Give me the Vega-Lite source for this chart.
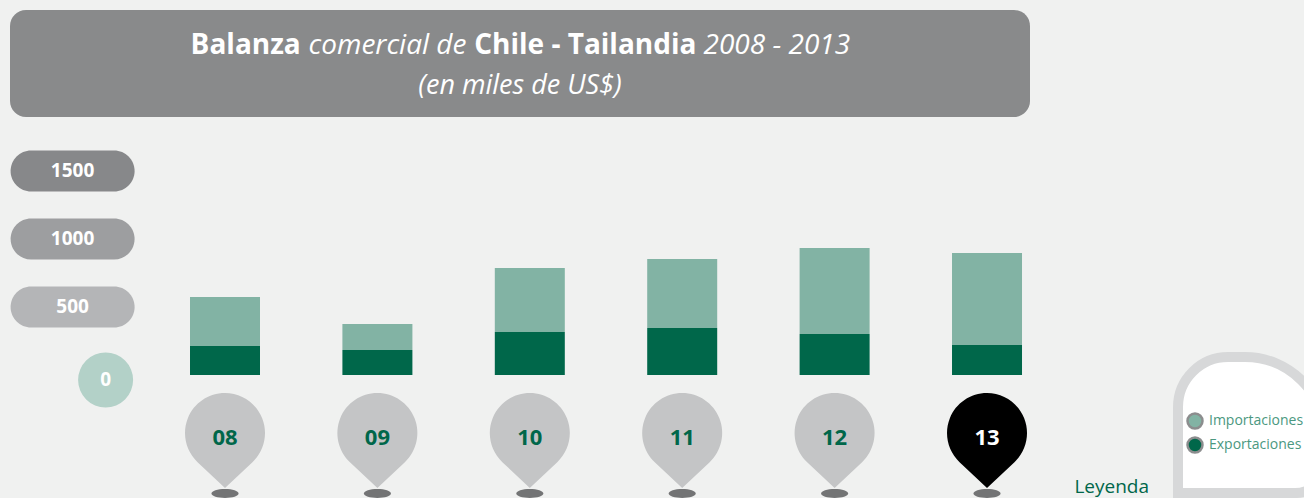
{
  "$schema": "https://vega.github.io/schema/vega-lite/v6.json",
  "background": "#f0f1f0",
  "padding": {"left": 10, "top": 10, "right": 0, "bottom": 0},
  "spacing": 0,
  "config": {"view": {"stroke": null}, "axis": {"disable": true}, "font": "Open Sans"},
  "datasets": {
    "comercio": [
      {"anio": "08", "tipo": "Exportaciones", "valor": 213},
      {"anio": "08", "tipo": "Importaciones", "valor": 360},
      {"anio": "09", "tipo": "Exportaciones", "valor": 184},
      {"anio": "09", "tipo": "Importaciones", "valor": 191},
      {"anio": "10", "tipo": "Exportaciones", "valor": 316},
      {"anio": "10", "tipo": "Importaciones", "valor": 471},
      {"anio": "11", "tipo": "Exportaciones", "valor": 346},
      {"anio": "11", "tipo": "Importaciones", "valor": 507},
      {"anio": "12", "tipo": "Exportaciones", "valor": 302},
      {"anio": "12", "tipo": "Importaciones", "valor": 632},
      {"anio": "13", "tipo": "Exportaciones", "valor": 221},
      {"anio": "13", "tipo": "Importaciones", "valor": 677}
    ],
    "anios": [{"anio": "08"}, {"anio": "09"}, {"anio": "10"}, {"anio": "11"}, {"anio": "12"}, {"anio": "13"}],
    "escala": [{"v": 0}, {"v": 500}, {"v": 1000}, {"v": 1500}]
  },
  "vconcat": [
    {
      "width": 1020,
      "height": 107,
      "view": {"fill": "#898a8b", "stroke": null, "cornerRadius": 16},
      "data": {"values": [{}]},
      "layer": [
        {"mark": {"type": "text", "text": "Balanza", "font": "Open Sans", "fontWeight": "bold", "fontSize": 28, "color": "#ffffff", "align": "center", "baseline": "alphabetic", "dx": -274.3, "dy": -9.5}, "encoding": {}},
        {"mark": {"type": "text", "text": "comercial de", "font": "Open Sans", "fontStyle": "italic", "fontSize": 28, "color": "#ffffff", "align": "center", "baseline": "alphabetic", "dx": -132.5, "dy": -9.5}, "encoding": {}},
        {"mark": {"type": "text", "text": "Chile - Tailandia", "font": "Open Sans", "fontWeight": "bold", "fontSize": 28, "color": "#ffffff", "align": "center", "baseline": "alphabetic", "dx": 65.3, "dy": -9.5}, "encoding": {}},
        {"mark": {"type": "text", "text": "2008 - 2013", "font": "Open Sans", "fontStyle": "italic", "fontSize": 28, "color": "#ffffff", "align": "center", "baseline": "alphabetic", "dx": 256.8, "dy": -9.5}, "encoding": {}},
        {"mark": {"type": "text", "text": "(en miles de US$)", "font": "Open Sans", "fontStyle": "italic", "fontSize": 27, "color": "#ffffff", "align": "center", "baseline": "alphabetic", "dx": 0, "dy": 30.5}, "encoding": {}}
      ]
    },
    {
      "width": 1294,
      "height": 381,
      "layer": [
        {
          "data": {"values": [{}]},
          "mark": {"type": "point", "shape": "M -0.72 0.68 L -0.72 -0.18 A 0.5 0.5 0 0 1 -0.22 -0.68 L -0.05 -0.68 A 0.8 0.8 0 0 1 0.75 0.12 L 0.75 0.38 A 0.3 0.3 0 0 1 0.45 0.68 Z", "size": 40000, "filled": true, "fill": "#ffffff", "stroke": "#d7d8d9", "strokeWidth": 10, "strokeJoin": "miter", "opacity": 1, "xOffset": 110.6, "clip": true},
          "encoding": {
            "x": {"datum": "ley", "type": "nominal", "scale": {"type": "band", "domain": ["eje", "08", "09", "10", "11", "12", "13", "ley"], "paddingInner": 0.5407, "paddingOuter": 0.5157, "align": 0.1756}, "axis": null},
            "y": {"datum": -367.6, "type": "quantitative", "scale": {"domain": [-904, 1897], "nice": false, "zero": false}, "axis": null}
          }
        },
        {
          "data": {"name": "escala"},
          "transform": [{"filter": "datum.v > 0"}],
          "mark": {"type": "point", "shape": "M -0.669 -0.331 L 0.669 -0.331 A 0.331 0.331 0 0 1 0.669 0.331 L -0.669 0.331 A 0.331 0.331 0 0 1 -0.669 -0.331 Z", "size": 15376, "filled": true, "strokeWidth": 0, "opacity": 1},
          "encoding": {
            "x": {"datum": "eje", "type": "nominal", "scale": {"type": "band", "domain": ["eje", "08", "09", "10", "11", "12", "13", "ley"], "paddingInner": 0.5407, "paddingOuter": 0.5157, "align": 0.1756}, "axis": null},
            "y": {"field": "v", "type": "quantitative", "scale": {"domain": [-904, 1897], "nice": false, "zero": false}, "axis": null},
            "fill": {"field": "v", "type": "ordinal", "scale": {"domain": [500, 1000, 1500], "range": ["#b4b5b7", "#9d9ea0", "#87888a"]}, "legend": null}
          }
        },
        {
          "data": {"name": "escala"},
          "transform": [{"filter": "datum.v > 0"}],
          "mark": {"type": "text", "font": "Open Sans", "fontWeight": "bold", "fontSize": 19, "color": "#ffffff", "align": "center", "baseline": "middle"},
          "encoding": {
            "x": {"datum": "eje", "type": "nominal", "scale": {"type": "band", "domain": ["eje", "08", "09", "10", "11", "12", "13", "ley"], "paddingInner": 0.5407, "paddingOuter": 0.5157, "align": 0.1756}, "axis": null},
            "y": {"field": "v", "type": "quantitative", "scale": {"domain": [-904, 1897], "nice": false, "zero": false}, "axis": null},
            "text": {"field": "v", "type": "quantitative", "format": "d"}
          }
        },
        {
          "data": {"name": "escala"},
          "transform": [{"filter": "datum.v == 0"}],
          "mark": {"type": "point", "shape": "circle", "size": 3025, "filled": true, "fill": "#b3d1c8", "strokeWidth": 0, "opacity": 1, "xOffset": 33, "yOffset": 5},
          "encoding": {
            "x": {"datum": "eje", "type": "nominal", "scale": {"type": "band", "domain": ["eje", "08", "09", "10", "11", "12", "13", "ley"], "paddingInner": 0.5407, "paddingOuter": 0.5157, "align": 0.1756}, "axis": null},
            "y": {"field": "v", "type": "quantitative", "scale": {"domain": [-904, 1897], "nice": false, "zero": false}, "axis": null}
          }
        },
        {
          "data": {"name": "escala"},
          "transform": [{"filter": "datum.v == 0"}],
          "mark": {"type": "text", "font": "Open Sans", "fontWeight": "bold", "fontSize": 19, "color": "#ffffff", "align": "center", "baseline": "middle", "xOffset": 33, "yOffset": 5},
          "encoding": {
            "x": {"datum": "eje", "type": "nominal", "scale": {"type": "band", "domain": ["eje", "08", "09", "10", "11", "12", "13", "ley"], "paddingInner": 0.5407, "paddingOuter": 0.5157, "align": 0.1756}, "axis": null},
            "y": {"field": "v", "type": "quantitative", "scale": {"domain": [-904, 1897], "nice": false, "zero": false}, "axis": null},
            "text": {"field": "v", "type": "quantitative", "format": "d"}
          }
        },
        {
          "data": {"name": "comercio"},
          "mark": {"type": "bar"},
          "encoding": {
            "x": {"field": "anio", "type": "nominal", "scale": {"type": "band", "domain": ["eje", "08", "09", "10", "11", "12", "13", "ley"], "paddingInner": 0.5407, "paddingOuter": 0.5157, "align": 0.1756}, "axis": null},
            "y": {"field": "valor", "type": "quantitative", "stack": "zero", "scale": {"domain": [-904, 1897], "nice": false, "zero": false}, "axis": null},
            "color": {
              "field": "tipo",
              "type": "nominal",
              "scale": {"domain": ["Importaciones", "Exportaciones"], "range": ["#82b3a4", "#00674a"]},
              "legend": {
                "orient": "none",
                "legendX": 1176,
                "legendY": 402,
                "title": null,
                "padding": 0,
                "symbolType": "circle",
                "symbolSize": 225,
                "symbolStrokeColor": "#8c8d8e",
                "symbolStrokeWidth": 2.5,
                "symbolOpacity": 1,
                "labelColor": "#4b9880",
                "labelFont": "Open Sans",
                "labelFontSize": 14,
                "labelOffset": 5,
                "rowPadding": -2,
                "encode": {"symbols": {"update": {"stroke": {"value": "#8c8d8e"}, "strokeWidth": {"value": 2.5}}}}
              }
            },
            "order": {"field": "tipo", "sort": "ascending"}
          }
        },
        {
          "data": {"name": "anios"},
          "mark": {"type": "point", "shape": "M -1 0 A 1 0.33 0 1 1 1 0 A 1 0.33 0 1 1 -1 0 Z", "size": 729, "filled": true, "fill": "#737475", "strokeWidth": 0, "opacity": 1, "clip": true},
          "encoding": {
            "x": {"field": "anio", "type": "nominal", "scale": {"type": "band", "domain": ["eje", "08", "09", "10", "11", "12", "13", "ley"], "paddingInner": 0.5407, "paddingOuter": 0.5157, "align": 0.1756}, "axis": null},
            "y": {"datum": -871, "type": "quantitative", "scale": {"domain": [-904, 1897], "nice": false, "zero": false}, "axis": null}
          }
        },
        {
          "data": {"name": "anios"},
          "mark": {"type": "point", "shape": "M 0 1.375 L -0.686 0.727 A 1 1 0 1 1 0.686 0.727 Z", "size": 6400, "filled": true, "strokeWidth": 0, "opacity": 1},
          "encoding": {
            "x": {"field": "anio", "type": "nominal", "scale": {"type": "band", "domain": ["eje", "08", "09", "10", "11", "12", "13", "ley"], "paddingInner": 0.5407, "paddingOuter": 0.5157, "align": 0.1756}, "axis": null},
            "y": {"datum": -426.5, "type": "quantitative", "scale": {"domain": [-904, 1897], "nice": false, "zero": false}, "axis": null},
            "fill": {"condition": {"test": "datum.anio === '13'", "value": "#000000"}, "value": "#c4c5c6"}
          }
        },
        {
          "data": {"name": "anios"},
          "mark": {"type": "text", "font": "Open Sans", "fontWeight": "bold", "fontSize": 22, "align": "center", "baseline": "alphabetic"},
          "encoding": {
            "x": {"field": "anio", "type": "nominal", "scale": {"type": "band", "domain": ["eje", "08", "09", "10", "11", "12", "13", "ley"], "paddingInner": 0.5407, "paddingOuter": 0.5157, "align": 0.1756}, "axis": null},
            "y": {"datum": -515, "type": "quantitative", "scale": {"domain": [-904, 1897], "nice": false, "zero": false}, "axis": null},
            "text": {"field": "anio", "type": "nominal"},
            "color": {"condition": {"test": "datum.anio === '13'", "value": "#ffffff"}, "value": "#00674a"}
          }
        },
        {
          "data": {"values": [{}]},
          "mark": {"type": "text", "text": "Leyenda", "font": "Open Sans", "fontSize": 19, "color": "#00674a", "align": "center", "baseline": "alphabetic", "dx": -27.7},
          "encoding": {
            "x": {"datum": "ley", "type": "nominal", "scale": {"type": "band", "domain": ["eje", "08", "09", "10", "11", "12", "13", "ley"], "paddingInner": 0.5407, "paddingOuter": 0.5157, "align": 0.1756}, "axis": null},
            "y": {"datum": -867.6, "type": "quantitative", "scale": {"domain": [-904, 1897], "nice": false, "zero": false}, "axis": null}
          }
        }
      ]
    }
  ]
}
